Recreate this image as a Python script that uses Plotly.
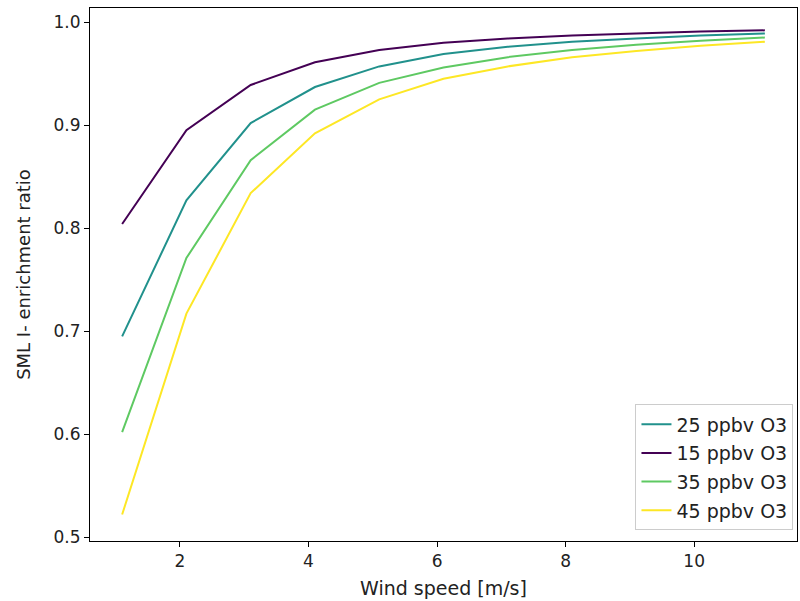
import plotly.graph_objects as go

wind_speed = [1.1, 2.1, 3.1, 4.1, 5.1, 6.1, 7.1, 8.1, 9.1, 10.1, 11.1]
ratio_25 = [0.695, 0.827, 0.902, 0.937, 0.957, 0.969, 0.976, 0.981, 0.984, 0.987, 0.989]
ratio_15 = [0.804, 0.895, 0.939, 0.961, 0.973, 0.980, 0.984, 0.987, 0.989, 0.991, 0.992]
ratio_35 = [0.602, 0.771, 0.866, 0.915, 0.941, 0.956, 0.966, 0.973, 0.978, 0.982, 0.985]
ratio_45 = [0.522, 0.717, 0.834, 0.892, 0.925, 0.945, 0.957, 0.966, 0.972, 0.977, 0.981]

series_names = ["25 ppbv O3", "15 ppbv O3", "35 ppbv O3", "45 ppbv O3"]
series_values = [ratio_25, ratio_15, ratio_35, ratio_45]
series_colors = ["#21918c", "#440154", "#5ec962", "#fde725"]

fig = go.Figure()
for name, vals, col in zip(series_names, series_values, series_colors):
    fig.add_trace(go.Scatter(x=wind_speed, y=vals, mode="lines", name=name,
                             legendgroup=name,
                             line=dict(color=col, width=2)))

axis_common = dict(showline=True, linecolor="black", linewidth=1, mirror=True,
                   ticks="outside", ticklen=5, tickcolor="black", showgrid=False,
                   zeroline=False, tickfont=dict(size=17, color="#222"))

fig.update_layout(
    width=800, height=601,
    margin=dict(l=90, r=3, t=8, b=60),
    paper_bgcolor="white", plot_bgcolor="white",
    font=dict(family="DejaVu Sans", size=17, color="#222"),
    xaxis=dict(range=[0.6, 11.6], tickvals=[2, 4, 6, 8, 10],
               title=dict(text="Wind speed [m/s]", font=dict(size=19), standoff=11),
               **axis_common),
    yaxis=dict(range=[0.4963, 1.0137], tickvals=[0.5, 0.6, 0.7, 0.8, 0.9, 1.0],
               tickformat=".1f",
               title=dict(text="SML I- enrichment ratio", font=dict(size=18), standoff=18),
               **axis_common),
    legend=dict(x=0.995, y=0.02, xanchor="right", yanchor="bottom",
                bordercolor="#cccccc", borderwidth=1, bgcolor="rgba(255,255,255,0.8)",
                font=dict(size=19), tracegroupgap=1),
)

fig.write_html("out.html")
